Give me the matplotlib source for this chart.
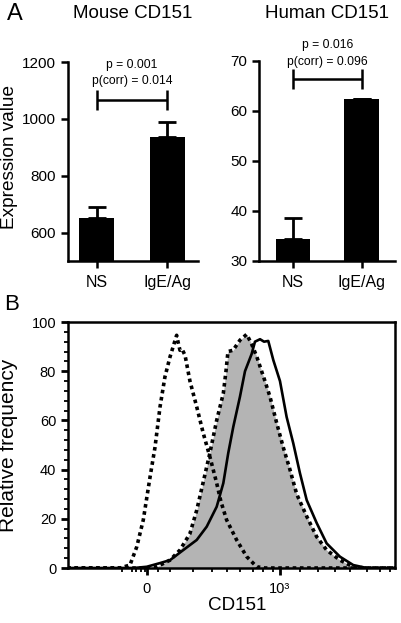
import matplotlib
matplotlib.use("Agg")
import matplotlib.pyplot as plt
from matplotlib.ticker import MultipleLocator

plt.rcParams['font.family'] = ['Liberation Sans', 'DejaVu Sans']

# panel A: expression values (mean, upper SEM)
groups = ['NS', 'IgE/Ag']
mouse_mean = [650, 937]
mouse_sem = [40, 53]
human_mean = [34.4, 62.4]
human_sem = [4.2, 0]
mouse_p = 'p = 0.001\np(corr) = 0.014'
human_p = 'p = 0.016\np(corr) = 0.096'

# panel B: flow histograms, x in display units (0 -> "0", 1 -> "10^3")
ctrl_x = [-0.6, -0.203, -0.128, -0.077, -0.028, 0.023, 0.060, 0.098, 0.135, 0.173, 0.223,
          0.233, 0.248, 0.263, 0.286, 0.323, 0.374, 0.423, 0.474, 0.524, 0.556, 0.599,
          0.674, 0.750, 0.825, 0.887, 1.87]
ctrl_y = [0, 0, 1.2, 8.6, 19.5, 37, 49, 65.5, 77.7, 85.8, 94.6,
          92, 88.5, 89, 86.5, 76, 65.5, 54.8, 45, 34.5, 27, 19.5,
          11.4, 4.6, 0.5, 0, 0]
ns_x = [-0.6, 0.0, 0.073, 0.173, 0.248, 0.323, 0.374, 0.421, 0.474, 0.524, 0.574, 0.594,
        0.609, 0.647, 0.699, 0.750, 0.787, 0.825, 0.862, 0.887, 0.925, 0.975, 1.025,
        1.075, 1.126, 1.201, 1.276, 1.351, 1.451, 1.549, 1.639, 1.87]
ns_y = [0, 0, 0.5, 3.2, 7.3, 14, 23.5, 34.5, 47, 60, 71, 80,
        88, 88.5, 92.6, 95, 91, 86, 80, 76, 69.6, 59, 49,
        40, 30, 21, 12.7, 7.3, 3.2, 0.5, 0, 0]
ige_x = [-0.6, -0.1, -0.002, 0.098, 0.173, 0.273, 0.374, 0.449, 0.524, 0.574, 0.611, 0.649,
         0.699, 0.737, 0.787, 0.812, 0.850, 0.880, 0.912, 0.950, 1.000, 1.050, 1.100,
         1.150, 1.201, 1.276, 1.351, 1.451, 1.551, 1.652, 1.87]
ige_y = [0, 0, 0.5, 2, 3.2, 7.3, 11.4, 16.8, 24.9, 34.5, 46.7, 57.4,
         69.6, 80, 87, 92, 93, 92, 92.3, 84.5, 76, 61.4, 50.7,
         38.6, 27.6, 18.3, 10, 4.6, 1.2, 0, 0]
minor_xticks = [-0.188, -0.113, -0.083, -0.045, -0.015, 0.083, 0.173, 0.346, 0.489, 0.602,
                0.699, 0.797, 0.872, 0.947, 1.15, 1.286, 1.414, 1.526, 1.654, 1.752, 1.827]

fig = plt.figure(figsize=(4.01, 6.23), dpi=100)
W, H = 401, 623


def box(x0, y0, x1, y1):
    # pixel box (top-left origin) -> figure fraction
    return [x0 / W, 1 - y1 / H, (x1 - x0) / W, (y1 - y0) / H]


def bar_panel(ax, means, sems, ylim, yticks, xlim, bracket_y, ptext, ptext_y):
    x = [0, 1]
    ax.bar(x, means, width=0.5, color='black')
    ax.errorbar(x, means, yerr=[[0, 0], sems], fmt='none', ecolor='black',
                elinewidth=2, capsize=6.5, capthick=2)
    ax.errorbar(0.5, bracket_y, xerr=0.5, fmt='none', ecolor='black',
                elinewidth=1.8, capsize=7.5, capthick=1.8)
    ax.text(0.5, ptext_y, ptext, ha='center', va='center', fontsize=8.7,
            linespacing=1.45)
    ax.set_xlim(*xlim)
    ax.set_ylim(*ylim)
    ax.set_yticks(yticks)
    ax.set_xticks(x)
    ax.set_xticklabels(groups)
    for s in ['top', 'right']:
        ax.spines[s].set_visible(False)
    for s in ['left', 'bottom']:
        ax.spines[s].set_linewidth(1.8)
    ax.tick_params(width=1.8, length=5, labelsize=11)
    ax.tick_params(axis='x', labelsize=11.5, pad=5)


ax1 = fig.add_axes(box(68, 62, 198, 261))
bar_panel(ax1, mouse_mean, mouse_sem, (500, 1200), [600, 800, 1000, 1200],
          (-0.41, 1.44), 1067, mouse_p, 1161)

ax2 = fig.add_axes(box(259, 61, 395, 261))
bar_panel(ax2, human_mean, human_sem, (30, 70), [30, 40, 50, 60, 70],
          (-0.5, 1.49), 66.4, human_p, 71.5)

fig.text(133 / W, 1 - 14 / H, 'Mouse CD151', ha='center', va='center', fontsize=13.5)
fig.text(327 / W, 1 - 14 / H, 'Human CD151', ha='center', va='center', fontsize=13.5)
fig.text(10 / W, 1 - 157 / H, 'Expression value', ha='center', va='center',
         rotation=90, fontsize=13.7)
fig.text(15 / W, 1 - 14 / H, 'A', ha='center', va='center', fontsize=17)

# panel B
ax3 = fig.add_axes(box(68, 322, 395, 568))
ax3.fill_between(ns_x, ns_y, color='#b4b4b4', lw=0)
ax3.plot(ns_x, ns_y, color='black', ls=(0, (1, 1)), lw=2.6)
ax3.plot(ctrl_x, ctrl_y, color='black', ls=(0, (1, 1)), lw=2.6)
ax3.plot(ige_x, ige_y, color='black', lw=1.9)
ax3.set_xlim(-0.594, 1.865)
ax3.set_ylim(0, 100)
ax3.set_yticks([0, 20, 40, 60, 80, 100])
ax3.yaxis.set_minor_locator(MultipleLocator(4))
ax3.set_xticks([0, 1])
ax3.set_xticklabels(['0', '10³'])
ax3.set_xticks(minor_xticks, minor=True)
for s in ax3.spines.values():
    s.set_linewidth(1.8)
ax3.tick_params(which='major', width=2, length=5, labelsize=10.5)
ax3.tick_params(which='minor', width=1.3, length=3)
ax3.tick_params(axis='x', which='major', pad=5)

fig.text(237 / W, 1 - 605 / H, 'CD151', ha='center', va='center', fontsize=13.6)
fig.text(9 / W, 1 - 445 / H, 'Relative frequency', ha='center', va='center',
         rotation=90, fontsize=15)
fig.text(12 / W, 1 - 305 / H, 'B', ha='center', va='center', fontsize=16)

fig.savefig('out.png', dpi=100)
